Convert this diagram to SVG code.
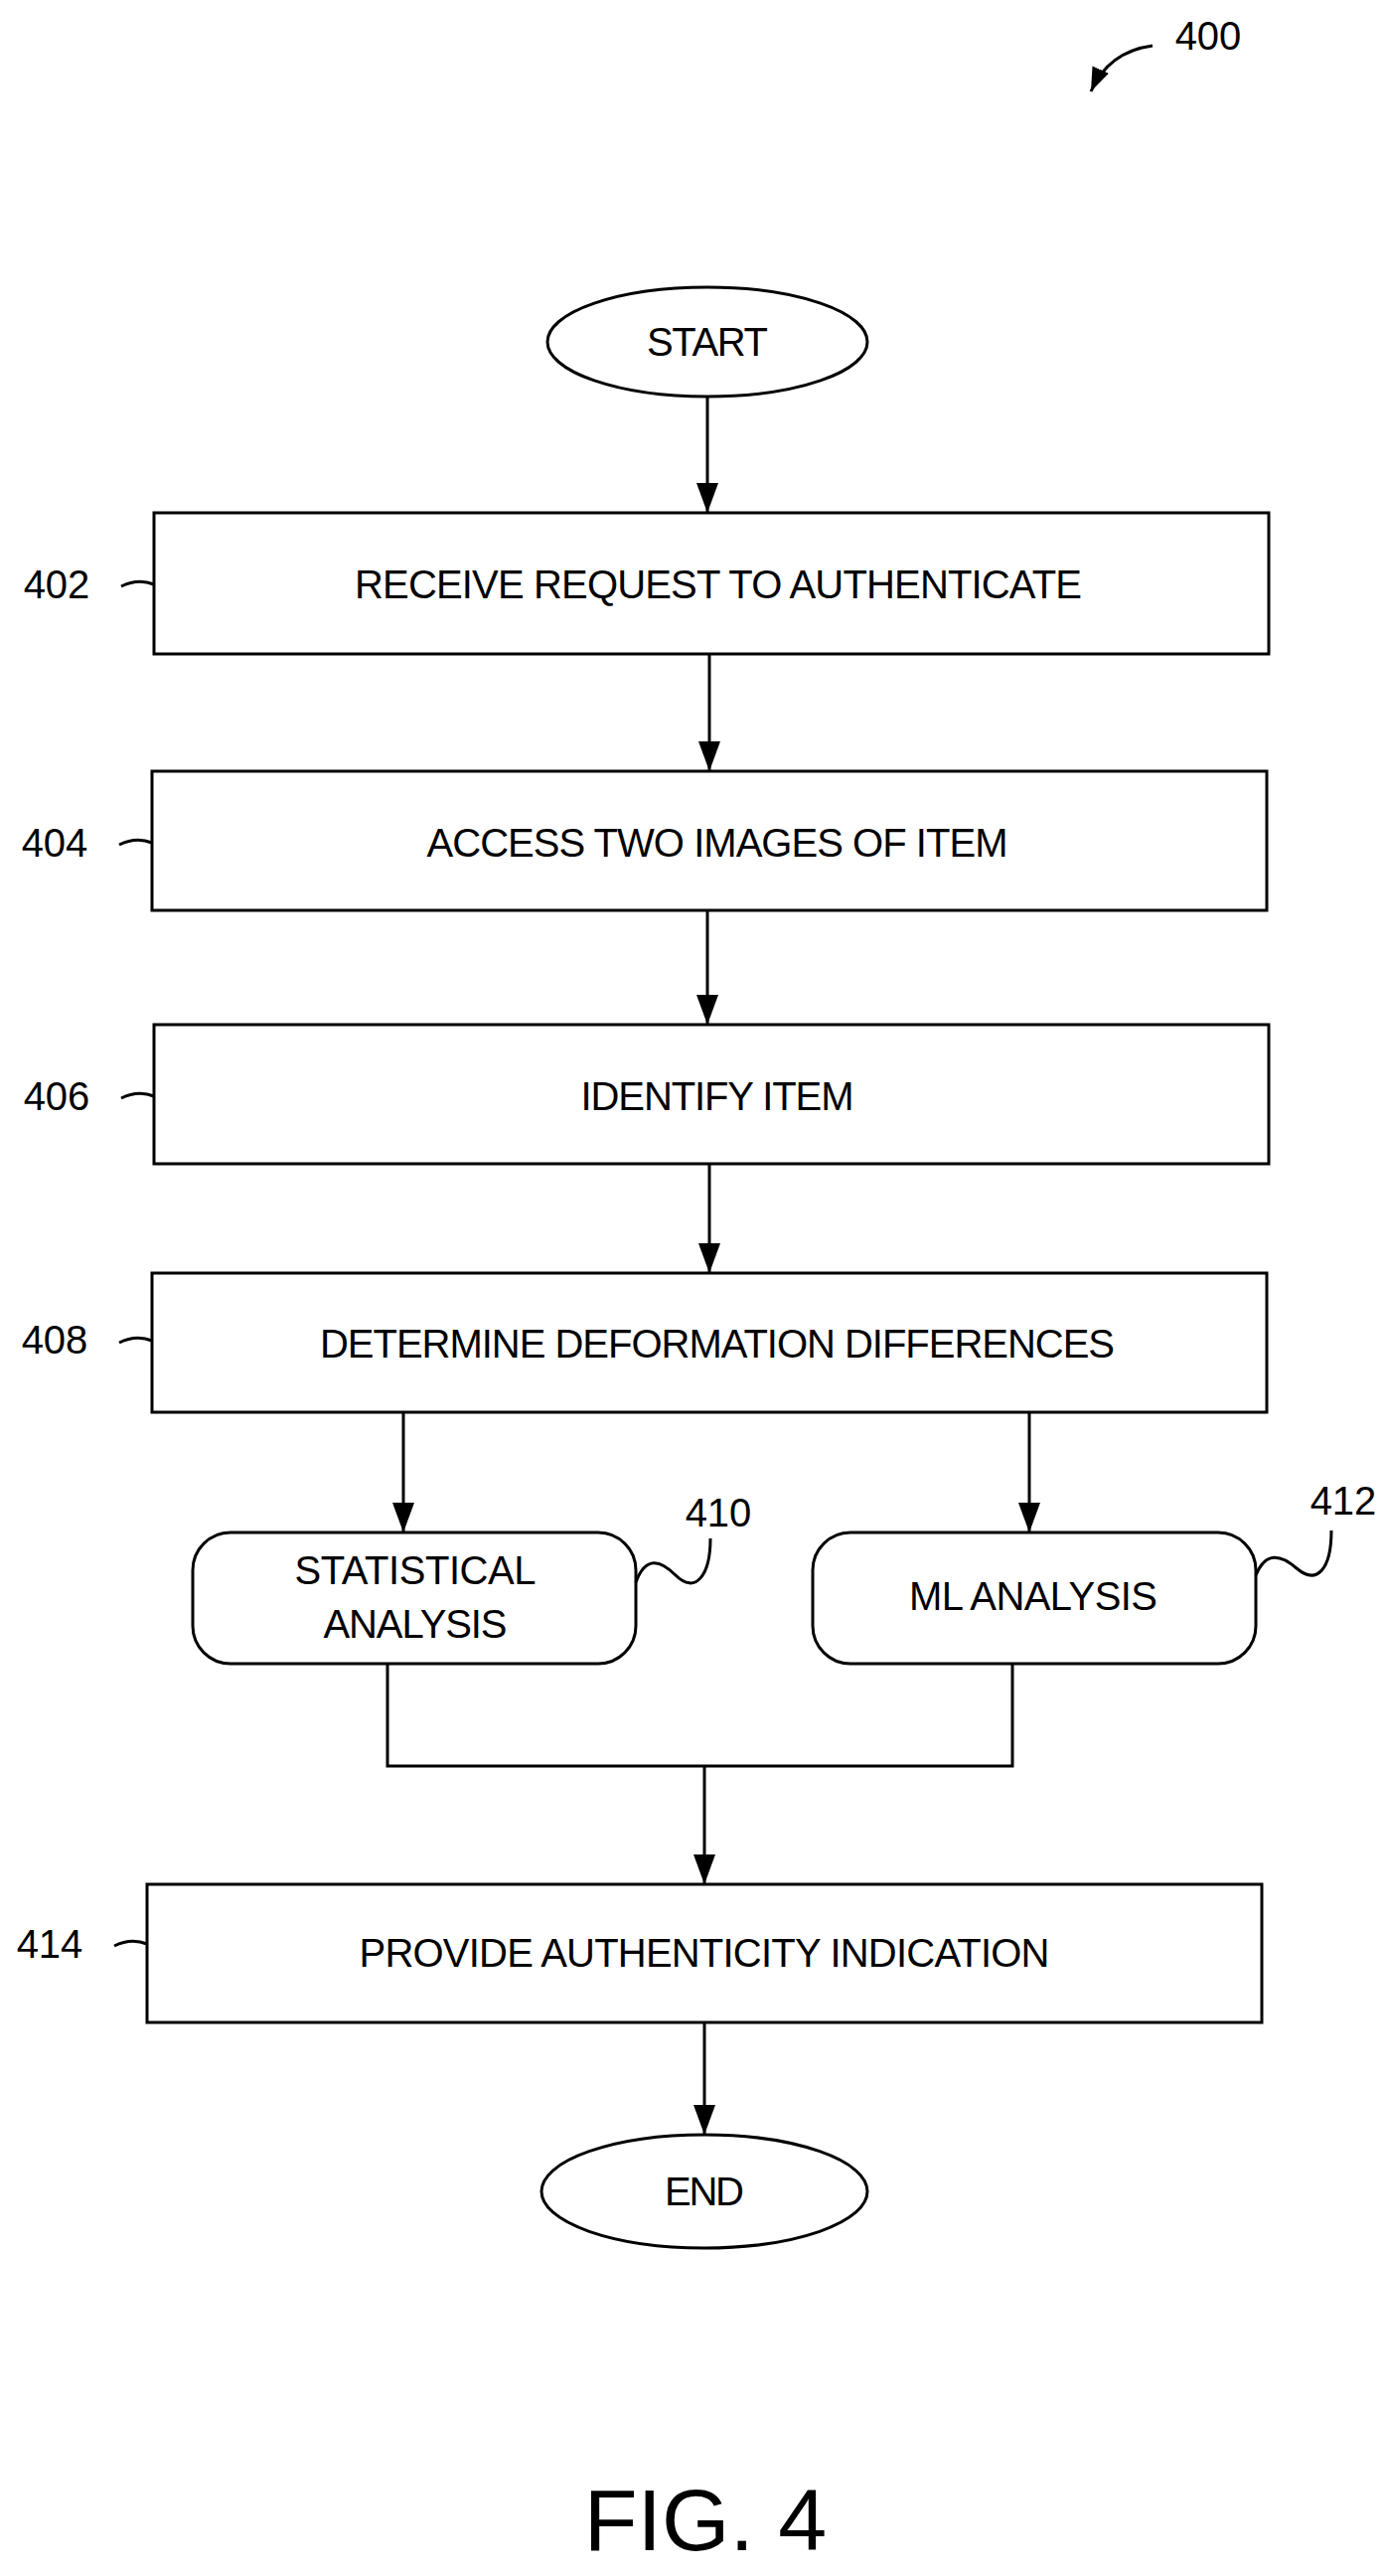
<svg xmlns="http://www.w3.org/2000/svg" width="1394" height="2592" viewBox="0 0 1394 2592">
<style>
.s{fill:#fff;stroke:#000;stroke-width:3}
.l{fill:none;stroke:#000;stroke-width:3}
.t{font-family:"Liberation Sans",Arial,sans-serif;font-size:40px;text-anchor:middle;font-stretch:condensed}
.r{font-family:"Liberation Sans",Arial,sans-serif;font-size:40px;text-anchor:middle}
</style>
<defs>
<marker id="b" viewBox="0 0 10 10" refX="10" refY="5" markerWidth="30" markerHeight="22" orient="auto" markerUnits="userSpaceOnUse" preserveAspectRatio="none"><path d="M0,0L10,5L0,10Z" fill="#000"/></marker>
<marker id="c" viewBox="0 0 10 10" refX="10" refY="5" markerWidth="24" markerHeight="18" orient="auto" markerUnits="userSpaceOnUse" preserveAspectRatio="none"><path d="M0,0L10,5L0,10Z" fill="#000"/></marker></defs>
<g id="label400"><text class="r" x="1216" y="50">400</text><path class="l" d="M1160,46 C1130,50 1110,65 1098,92" marker-end="url(#c)"/></g>
<g id="start"><ellipse class="s" cx="712" cy="344" rx="161" ry="55"/><text class="t" x="712" y="358" textLength="122">START</text></g>
<g id="n402"><rect class="s" x="155" y="516" width="1122" height="142"/><text class="t" x="723" y="602" textLength="732">RECEIVE REQUEST TO AUTHENTICATE</text><text class="r" x="57" y="602">402</text><path class="l" d="M122,590 C134,584 145,584 155,588"/></g>
<g id="n404"><rect class="s" x="153" y="776" width="1122" height="140"/><text class="t" x="722" y="862" textLength="585">ACCESS TWO IMAGES OF ITEM</text><text class="r" x="55" y="862">404</text><path class="l" d="M120,850 C132,844 143,844 153,848"/></g>
<g id="n406"><rect class="s" x="155" y="1031" width="1122" height="140"/><text class="t" x="722" y="1117" textLength="275">IDENTIFY ITEM</text><text class="r" x="57" y="1117">406</text><path class="l" d="M122,1105 C134,1099 145,1099 155,1103"/></g>
<g id="n408"><rect class="s" x="153" y="1281" width="1122" height="140"/><text class="t" x="722" y="1366" textLength="800">DETERMINE DEFORMATION DIFFERENCES</text><text class="r" x="55" y="1362">408</text><path class="l" d="M120,1351 C132,1345 143,1345 153,1349"/></g>
<g id="n410"><rect class="s" x="194" y="1542" width="446" height="132" rx="38"/><text class="t" x="418" y="1594" textLength="243">STATISTICAL</text><text class="t" x="418" y="1648" textLength="185">ANALYSIS</text><text class="r" x="723" y="1536">410</text><path class="l" d="M640,1592 C650,1565 665,1570 680,1585 C700,1605 715,1585 715,1548"/></g>
<g id="n412"><rect class="s" x="818" y="1542" width="446" height="132" rx="38"/><text class="t" x="1040" y="1620" textLength="250">ML ANALYSIS</text><text class="r" x="1352" y="1524">412</text><path class="l" d="M1264,1585 C1274,1560 1290,1565 1305,1578 C1325,1595 1340,1580 1340,1540"/></g>
<g id="n414"><rect class="s" x="148" y="1896" width="1122" height="139"/><text class="t" x="709" y="1979" textLength="695">PROVIDE AUTHENTICITY INDICATION</text><text class="r" x="50" y="1970">414</text><path class="l" d="M115,1958 C127,1952 138,1952 148,1956"/></g>
<g id="end"><ellipse class="s" cx="709" cy="2205" rx="164" ry="57"/><text class="t" x="709" y="2219" textLength="80">END</text></g>
<text class="r" x="710" y="2566" style="font-size:88px;font-stretch:condensed">FIG. 4</text>
<g id="connectors">
<line class="l" x1="712" y1="399" x2="712" y2="516" marker-end="url(#b)"/>
<line class="l" x1="714" y1="658" x2="714" y2="776" marker-end="url(#b)"/>
<line class="l" x1="712" y1="916" x2="712" y2="1031" marker-end="url(#b)"/>
<line class="l" x1="714" y1="1171" x2="714" y2="1281" marker-end="url(#b)"/>
<line class="l" x1="406" y1="1421" x2="406" y2="1542" marker-end="url(#b)"/>
<line class="l" x1="1036" y1="1421" x2="1036" y2="1542" marker-end="url(#b)"/>
<path class="l" d="M390,1674V1777H1019V1674"/>
<line class="l" x1="709" y1="1777" x2="709" y2="1896" marker-end="url(#b)"/>
<line class="l" x1="709" y1="2035" x2="709" y2="2148" marker-end="url(#b)"/>
</g>
</svg>
